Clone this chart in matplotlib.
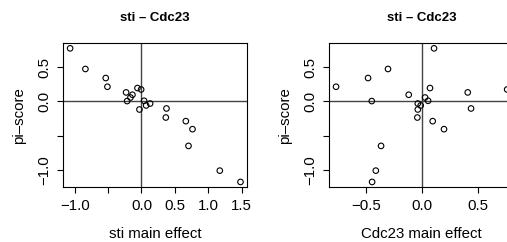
import numpy as np
import matplotlib.pyplot as plt

plt.rcParams['font.family'] = ['Liberation Sans', 'DejaVu Sans']

# pi-scores (shared by both panels)
pi_score = [0.775, 0.474, 0.342, 0.215, 0.132, 0.098, 0.058, 0.006, 0.196, 0.175,
            0.01, -0.058, -0.03, -0.117, -0.102, -0.234, -0.287, -0.404, -0.648,
            -1.009, -1.174]
# main effects
sti_main = [-1.069, -0.84, -0.535, -0.51, -0.23, -0.135, -0.165, -0.215, -0.06, -0.005,
            0.04, 0.07, 0.13, -0.03, 0.375, 0.365, 0.665, 0.765, 0.705, 1.174, 1.484]
cdc23_main = [0.107, -0.304, -0.482, -0.768, 0.408, -0.119, 0.027, -0.449, 0.071, 0.76,
              0.054, -0.012, -0.038, -0.038, 0.4375, -0.042, 0.095, 0.196, -0.366,
              -0.413, -0.446]

title = "sti – Cdc23"
ylab = "pi–score"
xlabs = ["sti main effect", "Cdc23 main effect"]
xticks = [[-1.0, -0.5, 0.0, 0.5, 1.0, 1.5], [-0.5, 0.0, 0.5]]
xticklabels = [["−1.0", "", "0.0", "0.5", "1.0", "1.5"], ["−0.5", "0.0", "0.5"]]
yticks = [-1.0, -0.5, 0.0, 0.5]
yticklabels = ["−1.0", "", "0.0", "0.5"]

W, H = 507, 242
fig = plt.figure(figsize=(W / 100, H / 100), dpi=100)

boxes = [(63.3, 247.3), (329.2, 514.0)]
top, bottom = 43.0, 187.3
fs = 10.8

for k, xs in enumerate([sti_main, cdc23_main]):
    x0, x1 = boxes[k]
    ax = fig.add_axes([x0 / W, (H - bottom) / H, (x1 - x0) / W, (bottom - top) / H])
    ax.axhline(0, color='#444444', lw=1.0, zorder=1)
    ax.axvline(0, color='#444444', lw=1.0, zorder=1)
    ax.scatter(xs, pi_score, s=16, facecolors='none', edgecolors='black',
               linewidths=0.8, zorder=2)
    # R style 4% padding
    xr = max(xs) - min(xs)
    ax.set_xlim(min(xs) - 0.04 * xr, max(xs) + 0.04 * xr)
    yr = max(pi_score) - min(pi_score)
    ax.set_ylim(min(pi_score) - 0.04 * yr, max(pi_score) + 0.04 * yr)
    ax.set_xticks(xticks[k])
    ax.set_xticklabels(xticklabels[k], fontsize=fs)
    ax.set_yticks(yticks)
    ax.set_yticklabels(yticklabels, fontsize=fs, rotation=90, va='center')
    ax.tick_params(direction='out', length=4.5, width=0.8, pad=4)
    for sp in ax.spines.values():
        sp.set_linewidth(0.8)
    ax.set_xlabel(xlabs[k], fontsize=fs, labelpad=10)
    ax.set_ylabel(ylab, fontsize=fs, labelpad=8.5)
    ax.set_title(title, fontsize=9.5, fontweight='bold', pad=16)

fig.savefig('out.png', dpi=100)
